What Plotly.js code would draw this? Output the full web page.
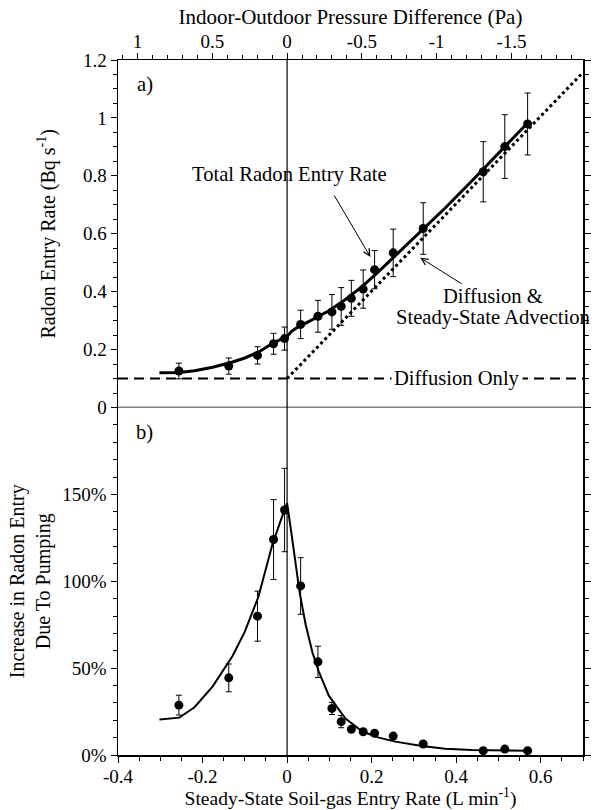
<!DOCTYPE html>
<html><head><meta charset="utf-8">
<script src="https://cdn.plot.ly/plotly-3.0.1.min.js"></script>
<style>html,body{margin:0;padding:0;background:#fff}</style>
</head><body>
<div id="chart" style="width:592px;height:810px"></div>
<script>
// Measured points (soil-gas entry rate, L/min)
const flowPts = [-0.256,-0.138,-0.070,-0.032,-0.006,0.032,0.073,0.106,0.128,0.152,0.180,0.207,0.251,0.322,0.464,0.515,0.569];
// a) radon entry rate (Bq/s) and its error
const ratePts = [0.126,0.143,0.180,0.220,0.238,0.287,0.315,0.330,0.349,0.377,0.409,0.476,0.534,0.618,0.814,0.901,0.979];
const rateErr = [0.027,0.028,0.030,0.036,0.040,0.049,0.055,0.060,0.065,0.062,0.066,0.066,0.082,0.089,0.104,0.110,0.107];
// b) increase due to pumping (%) and its error
const incPts = [28.7,44.4,79.9,124,141,97.3,53.6,26.8,19.2,14.8,13.4,12.5,10.9,6.3,2.5,3.4,2.5];
const incErr = [5.7,8,14.4,23,24,16.3,9,3.5,3.5,0,0,0,0,0,0,0,0];

// Model curves
const curveFlow = [-0.302,-0.255,-0.219,-0.176,-0.129,-0.1,-0.068,-0.035,-0.015,0,0.01,0.02,0.03,0.044,0.06,0.075,0.099,0.138,0.178,0.217,0.256,0.319,0.374,0.437,0.5,0.567];
const totalRate = [0.120,0.121,0.127,0.139,0.157,0.171,0.191,0.221,0.235,0.245,0.262,0.273,0.280,0.291,0.303,0.316,0.334,0.373,0.418,0.470,0.524,0.612,0.689,0.782,0.877,0.980];
const incCurve = [20.5,21.5,27.5,39.5,57,71,91,121,135,145,128,110,93,75,59,48,34,21,13.5,10,7.7,5.2,3.6,2.9,2.6,2.5];
const advFlow = [0, 0.7];
const advRate = [0.1, 1.157];
const diffFlow = [-0.4, 0.7];
const diffRate = [0.1, 0.1];

// Tick labels
const flowTicks = [-0.4,-0.2,0,0.2,0.4,0.6];
const flowTickText = ["-0.4","-0.2","0","0.2","0.4","0.6"];
const pressTicks = [1,0.5,0,-0.5,-1,-1.5];
const pressTickText = ["1","0.5","0","-0.5","-1","-1.5"];
const rateTicks = [0,0.2,0.4,0.6,0.8,1,1.2];
const rateTickText = ["0","0.2","0.4","0.6","0.8","1","1.2"];
const pctTicks = [0,50,100,150];
const pctTickText = ["0%","50%","100%","150%"];

const FONT = 'Liberation Serif, serif';
const K = '#000';
const ANN = {family:FONT, size:20.6, color:K};

const traces = [
  {x: diffFlow, y: diffRate, xaxis:'x', yaxis:'y', mode:'lines',
   line:{color:K, width:2, dash:'10px,6px'}, hoverinfo:'skip'},
  {x: advFlow, y: advRate, xaxis:'x', yaxis:'y', mode:'lines',
   line:{color:K, width:3, dash:'3px,3px'}, hoverinfo:'skip'},
  {x: curveFlow, y: totalRate, xaxis:'x', yaxis:'y', mode:'lines',
   line:{color:K, width:3}, hoverinfo:'skip'},
  {x: flowPts, y: ratePts, xaxis:'x', yaxis:'y', mode:'markers',
   marker:{color:K, size:9},
   error_y:{type:'data', array:rateErr, visible:true, color:K, thickness:1, width:3}},
  {x: curveFlow, y: incCurve, xaxis:'x', yaxis:'y2', mode:'lines',
   line:{color:K, width:2}, hoverinfo:'skip'},
  {x: flowPts, y: incPts, xaxis:'x', yaxis:'y2', mode:'markers',
   marker:{color:K, size:9},
   error_y:{type:'data', array:incErr, visible:true, color:K, thickness:1, width:3}},
  {x: [], y: [], xaxis:'x2', yaxis:'y', mode:'markers', hoverinfo:'skip'}
];

const axCommon = {
  showline:true, linecolor:K, linewidth:1.5, showgrid:false, zeroline:false,
  ticks:'outside', ticklen:6, tickwidth:1, tickcolor:K,
  tickfont:{family:FONT, size:19, color:K}, tickmode:'array'
};

const layout = {
  width:592, height:810,
  margin:{l:118, r:9, t:60, b:55},
  paper_bgcolor:'#fff', plot_bgcolor:'#fff',
  showlegend:false,
  font:{family:FONT, color:K, size:19},
  xaxis: Object.assign({}, axCommon, {
    domain:[0,1], anchor:'y2', range:[-0.4,0.7],
    tickvals:flowTicks, ticktext:flowTickText, ticklabelstandoff:-2,
    minor:{dtick:0.05, tick0:0, ticks:'outside', ticklen:4, tickwidth:1, tickcolor:K, showgrid:false},
    title:{text:'Steady-State Soil-gas Entry Rate (L min<sup>-1</sup>)', font:{family:FONT, size:19.5, color:K}, standoff:0}
  }),
  xaxis2: Object.assign({}, axCommon, {
    overlaying:'x', anchor:'y', side:'top', range:[1.130,-1.978],
    tickvals:pressTicks, ticktext:pressTickText, ticklabelstandoff:-3,
    minor:{dtick:0.1, tick0:0, ticks:'outside', ticklen:4, tickwidth:1, tickcolor:K, showgrid:false},
    title:{text:'Indoor-Outdoor Pressure Difference (Pa)', font:{family:FONT, size:21, color:K}, standoff:0}
  }),
  yaxis: Object.assign({}, axCommon, {
    domain:[0.5,1], anchor:'x', range:[0,1.2], mirror:'ticks',
    tickvals:rateTicks, ticktext:rateTickText,
    minor:{dtick:0.05, tick0:0, ticks:'outside', ticklen:4, tickwidth:1, tickcolor:K, showgrid:false},
    title:{text:'Radon Entry Rate (Bq s<sup>-1</sup>)', font:{family:FONT, size:20, color:K}, standoff:22}
  }),
  yaxis2: Object.assign({}, axCommon, {
    domain:[0,0.5], anchor:'x', range:[0,200], mirror:'ticks',
    tickvals:pctTicks, ticktext:pctTickText,
    minor:{dtick:10, tick0:0, ticks:'outside', ticklen:4, tickwidth:1, tickcolor:K, showgrid:false},
    title:{text:'Increase in Radon Entry<br>Due To Pumping', font:{family:FONT, size:20, color:K}, standoff:6}
  }),
  shapes:[
    {type:'line', xref:'x', yref:'paper', x0:0, x1:0, y0:0, y1:1, line:{color:K, width:1.2}, layer:'below'},
    {type:'line', xref:'paper', yref:'y', x0:0, x1:1, y0:0, y1:0, line:{color:K, width:1.5}}
  ],
  annotations:[
    {xref:'x', yref:'y', x:-0.337, y:1.114, text:'a)', showarrow:false, font:ANN},
    {xref:'x', yref:'y2', x:-0.337, y:185.6, text:'b)', showarrow:false, font:ANN},
    {xref:'x', yref:'y', x:0.005, y:0.806, text:'Total Radon Entry Rate', showarrow:false, font:ANN},
    {xref:'x', yref:'y', x:0.197, y:0.520, text:'', showarrow:true, ax:-37, ay:-63, arrowhead:5, arrowsize:1.3, arrowwidth:1, arrowcolor:K, standoff:0},
    {xref:'x', yref:'y', x:0.486, y:0.384, text:'Diffusion &amp;', showarrow:false, font:ANN},
    {xref:'x', yref:'y', x:0.486, y:0.311, text:'Steady-State Advection', showarrow:false, font:ANN},
    {xref:'x', yref:'y', x:0.315, y:0.517, text:'', showarrow:true, ax:43, ay:27, arrowhead:5, arrowsize:1.3, arrowwidth:1, arrowcolor:K, standoff:0},
    {xref:'x', yref:'y', x:0.401, y:0.1, text:'Diffusion Only', showarrow:false, bgcolor:'#fff', borderpad:2, font:ANN}
  ]
};

Plotly.newPlot('chart', traces, layout, {staticPlot:true, displayModeBar:false});
</script>
</body></html>
